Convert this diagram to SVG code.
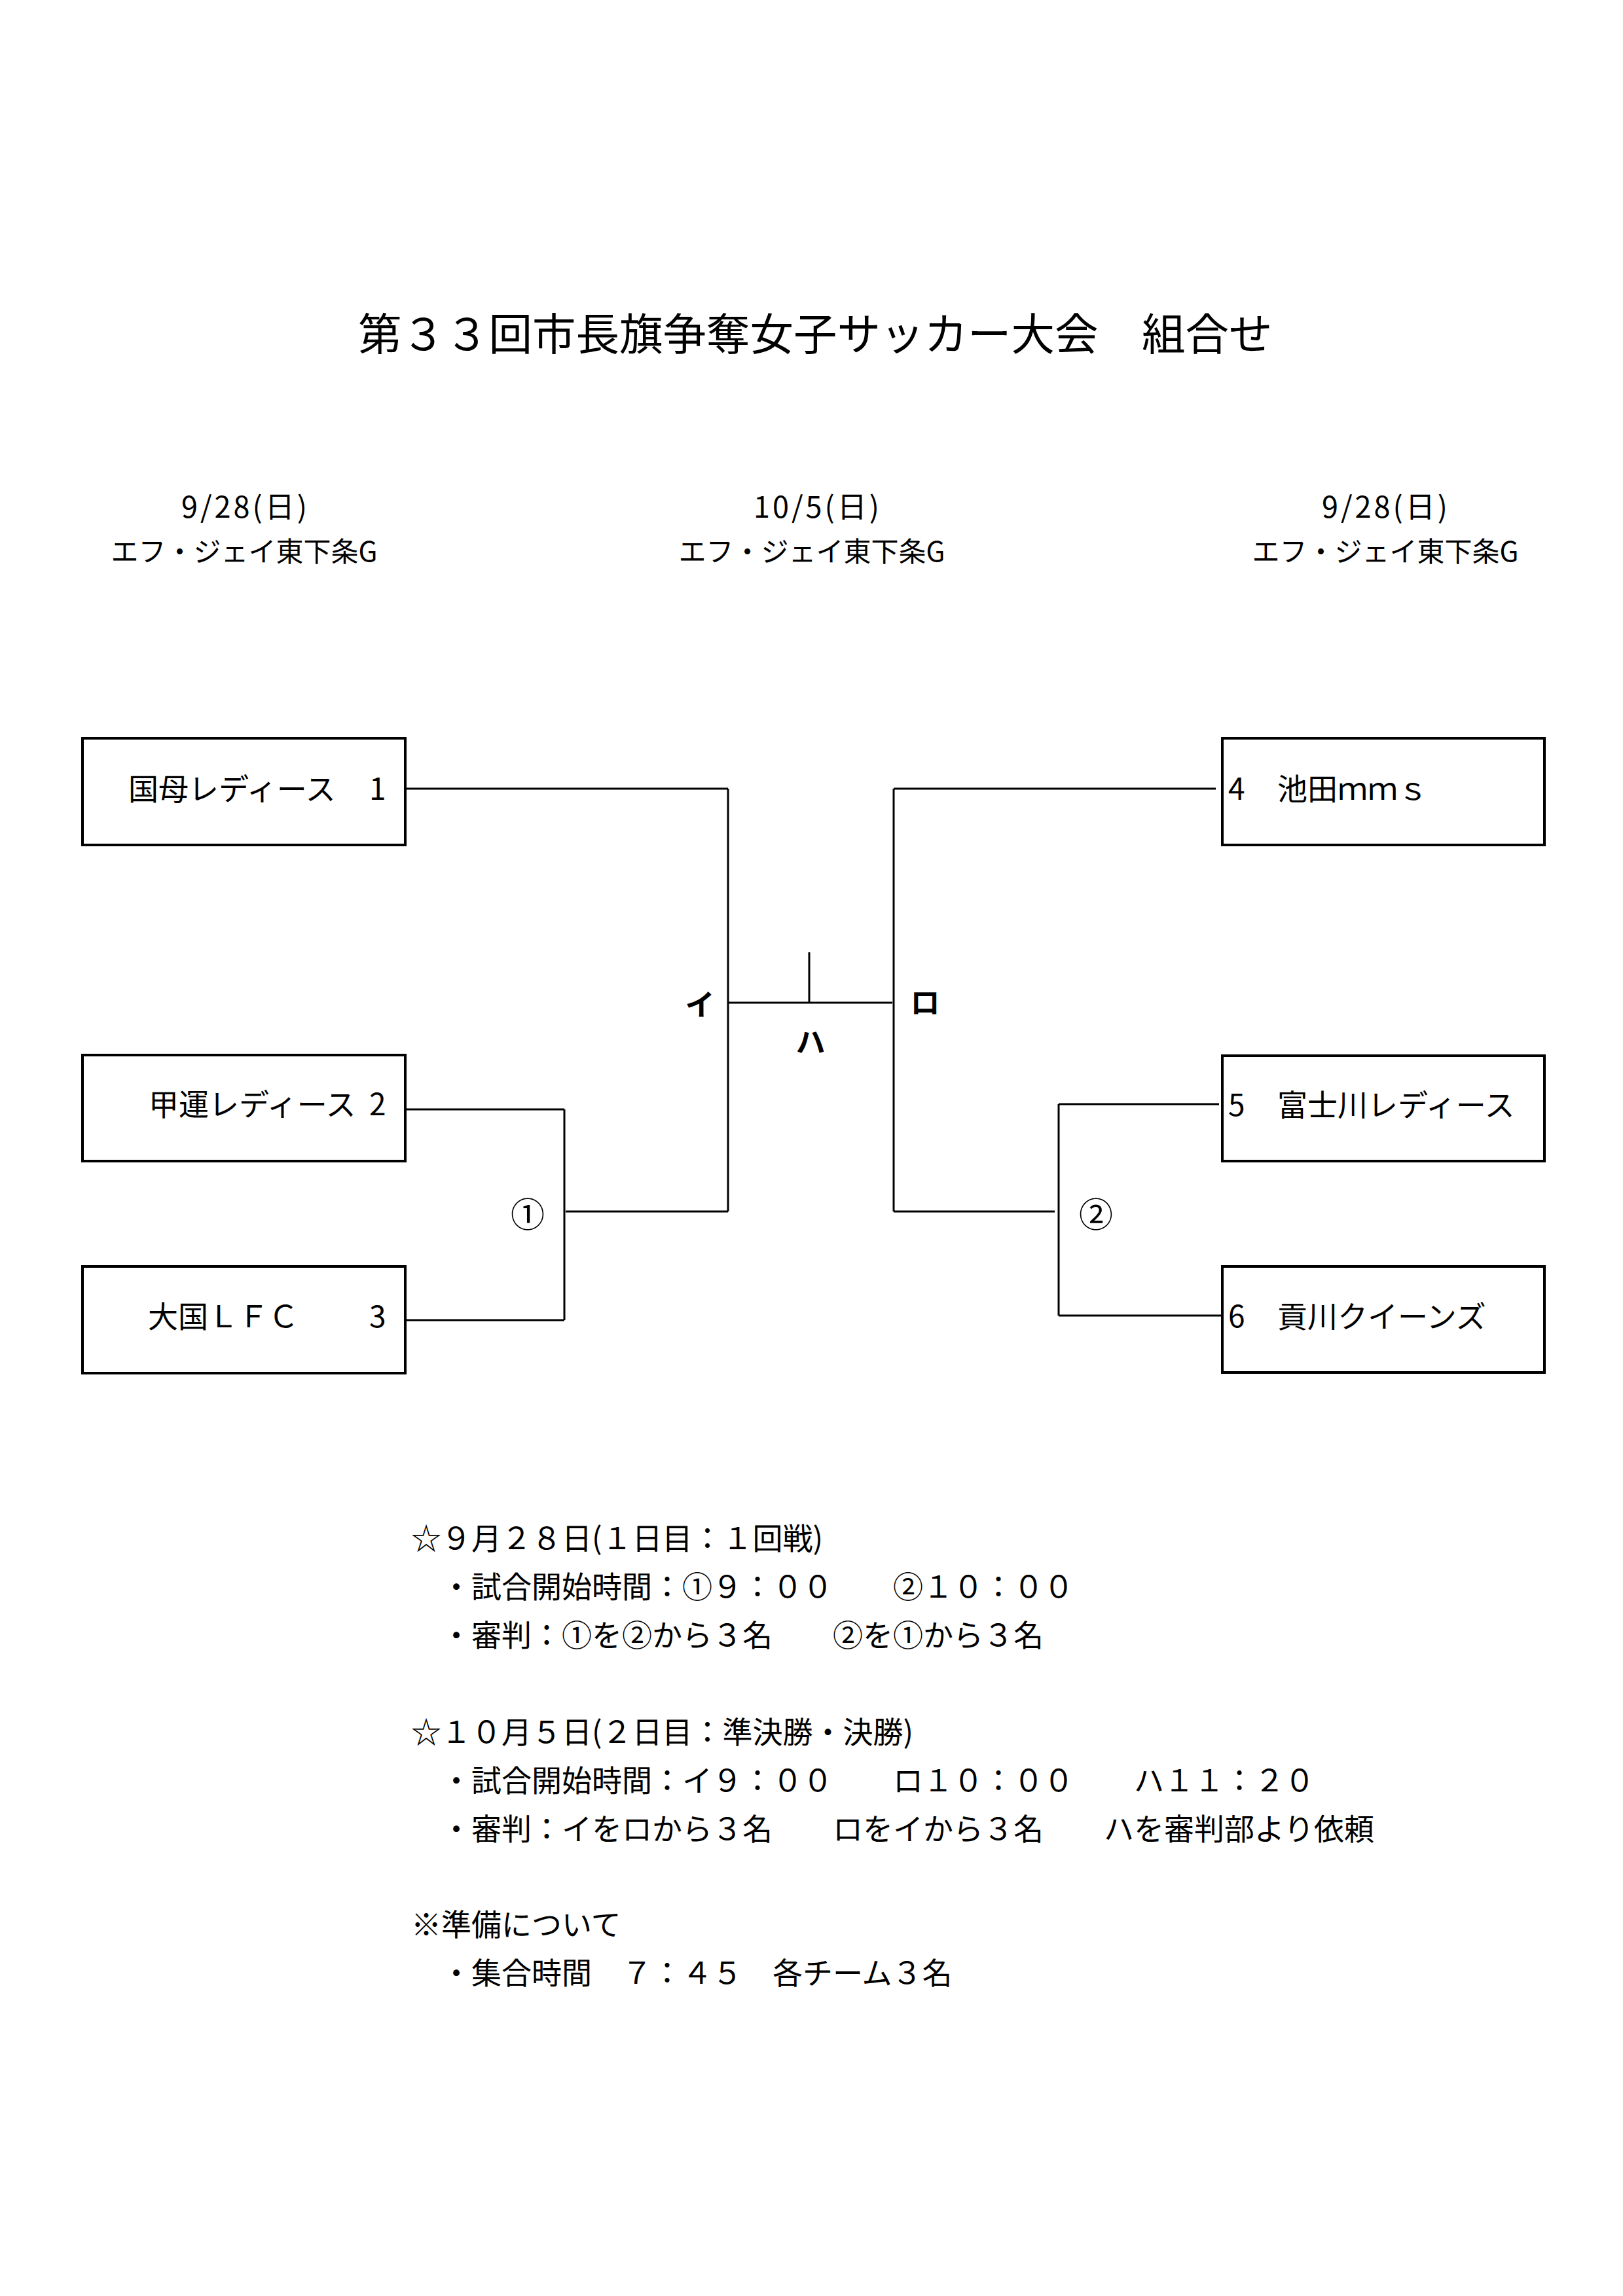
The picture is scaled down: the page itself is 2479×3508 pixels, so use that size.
<svg xmlns="http://www.w3.org/2000/svg" width="2479" height="3508" viewBox="0 0 2479 3508">
<style>
text{font-family:"Noto Sans CJK JP","Noto Sans",sans-serif;fill:#000}
.title{font-size:66.5px}
.hd{font-size:42px;text-anchor:middle}
.date{font-size:45px;letter-spacing:4px;text-anchor:middle}
.team{font-size:46px}
.lbl{font-size:45px;font-weight:bold;text-anchor:middle}
.circ{font-size:52px;text-anchor:middle}
.note{font-size:46px}
.box{fill:#fff;stroke:#000;stroke-width:4}
.ln{stroke:#000;stroke-width:3;fill:none}
</style>
<rect width="2479" height="3508" fill="#fff"/>
<g id="title"><text class="title" x="547" y="535">第３３回市長旗争奪女子サッカー大会　組合せ</text></g>
<g id="headers">
<text class="date" x="375" y="791">9/28(日)</text>
<text class="hd" x="373" y="858">エフ・ジェイ東下条G</text>
<text class="date" x="1249" y="791">10/5(日)</text>
<text class="hd" x="1240" y="858">エフ・ジェイ東下条G</text>
<text class="date" x="2117" y="791">9/28(日)</text>
<text class="hd" x="2116" y="858">エフ・ジェイ東下条G</text>
</g>
<g id="connectors">
<line class="ln" x1="619" y1="1205" x2="1112" y2="1205"/>
<line class="ln" x1="1112" y1="1205" x2="1112" y2="1851"/>
<line class="ln" x1="864" y1="1851" x2="1112" y2="1851"/>
<line class="ln" x1="619" y1="1695" x2="862" y2="1695"/>
<line class="ln" x1="862" y1="1695" x2="862" y2="2017"/>
<line class="ln" x1="619" y1="2017" x2="862" y2="2017"/>
<line class="ln" x1="1112" y1="1532" x2="1363" y2="1532"/>
<line class="ln" x1="1236" y1="1455" x2="1236" y2="1532"/>
<line class="ln" x1="1365" y1="1205" x2="1365" y2="1851"/>
<line class="ln" x1="1365" y1="1205" x2="1857" y2="1205"/>
<line class="ln" x1="1365" y1="1851" x2="1611" y2="1851"/>
<line class="ln" x1="1617" y1="1687" x2="1617" y2="2010"/>
<line class="ln" x1="1617" y1="1687" x2="1862" y2="1687"/>
<line class="ln" x1="1617" y1="2010" x2="1867" y2="2010"/>
</g>
<g id="labels">
<text class="lbl" x="1069" y="1552">イ</text>
<text class="lbl" x="1413" y="1549">ロ</text>
<text class="lbl" x="1238" y="1609">ハ</text>
<text class="circ" x="806" y="1875">①</text>
<text class="circ" x="1674" y="1875">②</text>
</g>
<g id="team1"><rect class="box" x="126" y="1128" width="493" height="163"/><text class="team" y="1222"><tspan x="196">国母レディース　</tspan><tspan x="564">1</tspan></text></g>
<g id="team2"><rect class="box" x="126" y="1612" width="493" height="162"/><text class="team" y="1704"><tspan x="227">甲運レディース </tspan><tspan x="564">2</tspan></text></g>
<g id="team3"><rect class="box" x="126" y="1935" width="493" height="163"/><text class="team" y="2028"><tspan x="226">大国ＬＦＣ　　</tspan><tspan x="564">3</tspan></text></g>
<g id="team4"><rect class="box" x="1867" y="1128" width="492" height="163"/><text class="team" y="1222"><tspan x="1876">4　</tspan><tspan x="1951">池田ｍｍｓ</tspan></text></g>
<g id="team5"><rect class="box" x="1867" y="1613" width="492" height="161"/><text class="team" y="1705"><tspan x="1876">5　</tspan><tspan x="1951">富士川レディース</tspan></text></g>
<g id="team6"><rect class="box" x="1867" y="1935" width="492" height="162"/><text class="team" y="2028"><tspan x="1876">6　</tspan><tspan x="1951">貢川クイーンズ</tspan></text></g>
<g id="notes">
<text class="note" x="628" y="2367">☆９月２８日(１日目：１回戦)</text>
<text class="note" x="674" y="2441">・試合開始時間：①９：００　　②１０：００</text>
<text class="note" x="674" y="2515">・審判：①を②から３名　　②を①から３名</text>
<text class="note" x="628" y="2663">☆１０月５日(２日目：準決勝・決勝)</text>
<text class="note" x="674" y="2737">・試合開始時間：イ９：００　　ロ１０：００　　ハ１１：２０</text>
<text class="note" x="674" y="2811">・審判：イをロから３名　　ロをイから３名　　ハを審判部より依頼</text>
<text class="note" x="628" y="2957">※準備について</text>
<text class="note" x="674" y="3031">・集合時間　７：４５　各チーム３名</text>
</g>
</svg>
